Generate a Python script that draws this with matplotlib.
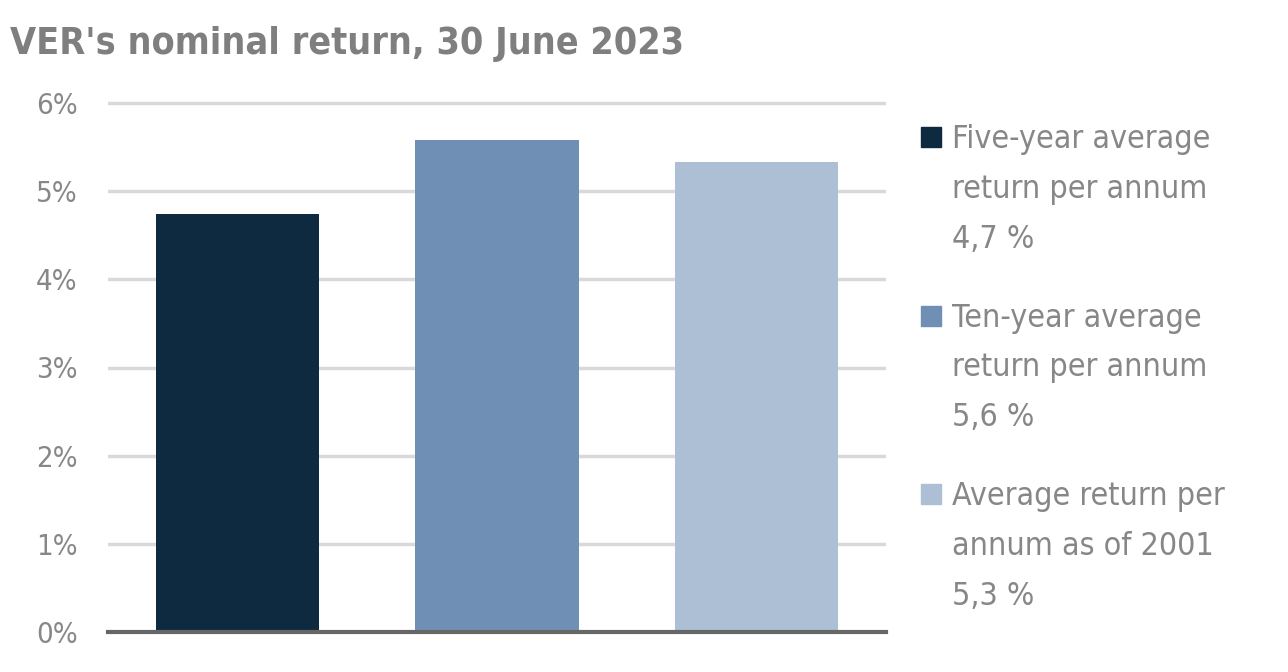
#!/usr/bin/env python3

import matplotlib
matplotlib.use('Agg')
import matplotlib.pyplot as plt
from matplotlib.patches import Rectangle

# Data
categories = ['Five-year', 'Ten-year', 'Since 2001']
values = [4.74, 5.58, 5.33]
colors = ['#0e2a40', '#6f90b4', '#adbfd4']
legend_lines = [
    ['Five-year average', 'return per annum', '4,7 %'],
    ['Ten-year average', 'return per annum', '5,6 %'],
    ['Average return per', 'annum as of 2001', '5,3 %'],
]
yticks = [0, 1, 2, 3, 4, 5, 6]
ytick_labels = ['0%', '1%', '2%', '3%', '4%', '5%', '6%']
title = "VER's nominal return, 30 June 2023"

TEXT_GREY = '#878787'
W, H = 1288, 672

plt.rcParams['font.family'] = ['DejaVu Sans']
plt.rcParams['font.stretch'] = 'condensed'


def px(x, y):
    # pixel (from top-left) to figure fraction
    return x / W, 1 - y / H


def main():
    fig = plt.figure(figsize=(W / 100, H / 100), dpi=100)
    ymax = 6.1
    top_px = 632 - ymax * (632 - 103) / 6
    ax = fig.add_axes([108 / W, 1 - 632 / H, (886 - 108) / W, (632 - top_px) / H])

    x = range(len(values))
    ax.bar(x, values, width=0.63, color=colors, zorder=3)

    ax.set_xlim(-0.5, 2.5)
    ax.set_ylim(0, ymax)
    ax.set_yticks(yticks)
    ax.set_yticklabels(ytick_labels, fontsize=21, color=TEXT_GREY,
                       fontstretch='condensed')
    ax.set_xticks([])
    ax.tick_params(axis='y', length=0, pad=22)
    ax.yaxis.grid(True, color='#d9d9d9', linewidth=2.5, zorder=0)
    for side in ['top', 'right', 'left']:
        ax.spines[side].set_visible(False)
    ax.spines['bottom'].set_color('#666666')
    ax.spines['bottom'].set_linewidth(3)
    ax.spines['bottom'].set_zorder(4)

    fig.text(*px(10, 54), title, fontsize=27, fontweight='bold',
             fontstretch='condensed', color='#7f7f7f', va='baseline', ha='left')

    # Legend, drawn by hand so squares sit on the first line
    for i, (lines, c) in enumerate(zip(legend_lines, colors)):
        y0 = i * 178.5
        fig.patches.append(Rectangle(px(921, 147 + y0), 20 / W, 20 / H,
                                     transform=fig.transFigure, color=c,
                                     figure=fig))
        for j, line in enumerate(lines):
            fig.text(*px(952, 148 + y0 + j * 50), line, fontsize=23,
                     fontstretch='condensed', color=TEXT_GREY,
                     va='baseline', ha='left')

    fig.savefig('out.png', dpi=100, facecolor='white')


if __name__ == '__main__':
    main()
